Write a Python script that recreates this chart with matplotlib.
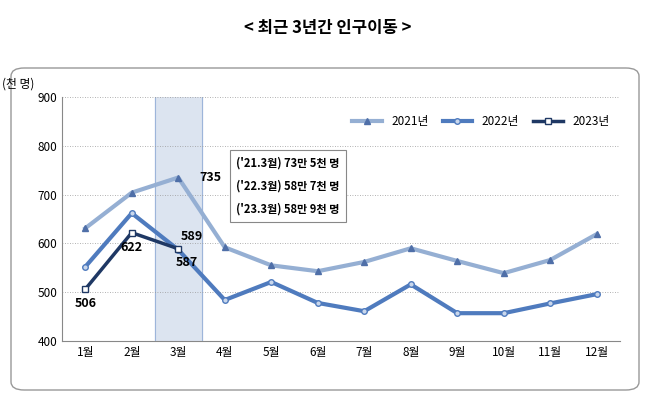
import matplotlib
matplotlib.use("Agg")
import matplotlib.pyplot as plt
from matplotlib.patches import FancyBboxPatch

plt.rcParams['font.family'] = ['Noto Sans CJK KR', 'Noto Sans CJK JP', 'Noto Sans CJK SC', 'DejaVu Sans']

months = ['1월','2월','3월','4월','5월','6월','7월','8월','9월','10월','11월','12월']
y2021 = [631, 704, 735, 592, 555, 543, 562, 590, 564, 539, 566, 619]
y2022 = [552, 662, 587, 484, 521, 478, 461, 516, 457, 457, 477, 496]
y2023 = [506, 622, 589]
notes = ["('21.3월) 73만 5천 명", "('22.3월) 58만 7천 명", "('23.3월) 58만 9천 명"]

W, H = 656, 408
fig = plt.figure(figsize=(W/100, H/100), dpi=100)
fig.text(328/W, 1-28/H, '< 최근 3년간 인구이동 >', ha='center', va='center', fontsize=12, fontweight='bold')
box = FancyBboxPatch((11/W, 18/H), 628/W, 322/H, boxstyle='round,pad=0,rounding_size=0.02',
                     transform=fig.transFigure, fc='white', ec='#999999', lw=1, zorder=-5)
fig.patches.append(box)
ax = fig.add_axes([62/W, 1-341/H, 558/W, 244/H])
ax.patch.set_alpha(0)
x = list(range(12))
ax.set_xlim(-0.5, 11.5)
ax.set_ylim(400, 900)
ax.axvspan(1.5, 2.5, color='#DCE4F0', zorder=0)
ax.axvline(1.5, color='#9DB5DA', lw=0.8, zorder=0)
ax.axvline(2.5, color='#9DB5DA', lw=0.8, zorder=0)
ax.yaxis.grid(True, color='#999999', ls=(0, (1, 2)), lw=0.6)
ax.set_axisbelow(True)
ax.plot(x, y2021, color='#95AFD3', lw=3, marker='^', ms=5, mfc='#4F6FA8', mec='#4F6FA8', label='2021년')
ax.plot(x, y2022, color='#4F7BBE', lw=3, marker='o', ms=4, mfc='#C9D7EC', mec='#4F7BBE', label='2022년')
ax.plot(x[:3], y2023, color='#1F3864', lw=2.5, marker='s', ms=4.5, mfc='white', mec='#1F3864', label='2023년')
ax.set_xticks(x)
ax.set_xticklabels(months, fontsize=8.5)
ax.set_yticks(range(400, 901, 100))
ax.tick_params(labelsize=8.5, length=0)
for s in ['top', 'right']:
    ax.spines[s].set_visible(False)
ax.spines['left'].set_color('#888888')
ax.spines['bottom'].set_color('#888888')
ax.text(-0.05, 1.04, '(천 명)', transform=ax.transAxes, fontsize=8.5, ha='right')
kw = dict(fontsize=9, fontweight='bold', ha='center')
ax.text(2.45, 735, str(y2021[2]), va='center', ha='left', fontsize=9, fontweight='bold')
ax.text(2.05, 600, str(y2023[2]), va='bottom', ha='left', fontsize=9, fontweight='bold')
ax.text(1.95, 560, str(y2022[2]), va='center', ha='left', fontsize=9, fontweight='bold')
ax.text(0, 490, str(y2023[0]), va='top', **kw)
ax.text(1, 605, str(y2023[1]), va='top', **kw)
ax.text(3.25, 718, '\n'.join(notes), fontsize=8, fontweight='bold', va='center', linespacing=2.0,
        bbox=dict(boxstyle='square,pad=0.6', fc='white', ec='#888888', lw=0.8))
ax.legend(loc='upper right', ncol=3, frameon=False, fontsize=8.5, handlelength=2.5,
          bbox_to_anchor=(1.0, 0.97), columnspacing=1.2)
fig.savefig('out.png', dpi=100)
